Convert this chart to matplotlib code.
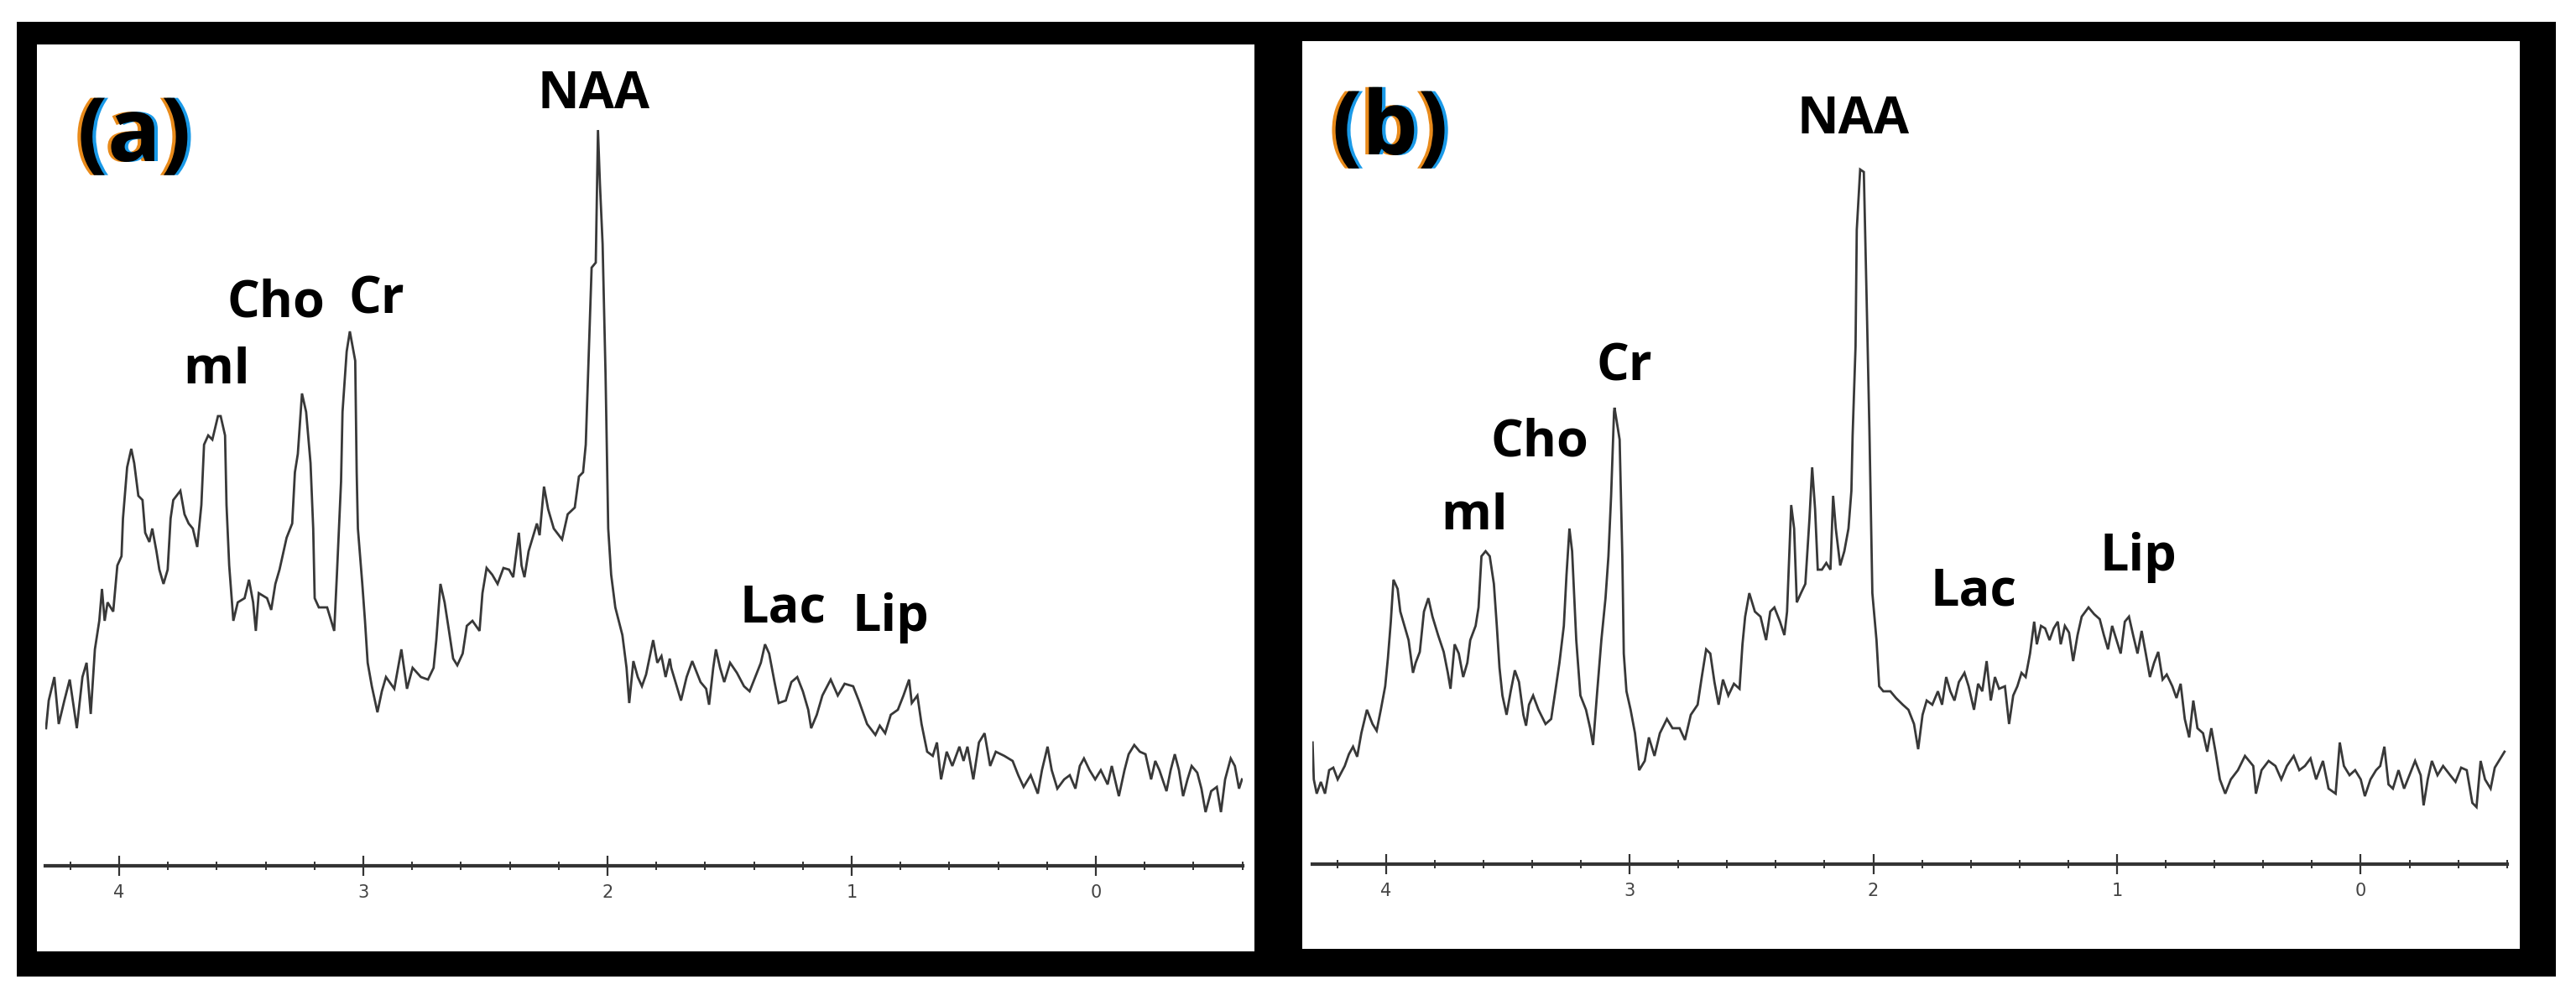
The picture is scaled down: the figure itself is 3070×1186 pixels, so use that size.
import matplotlib
matplotlib.use("Agg")
import matplotlib.pyplot as plt
from matplotlib.patches import Rectangle
from matplotlib.ticker import MultipleLocator, FixedLocator
from matplotlib import patheffects
from matplotlib import font_manager

# ---------------- data ----------------
ppm_a = [4.299, 4.288, 4.265, 4.247, 4.224, 4.202, 4.173, 4.150, 4.133, 4.116, 4.099, 4.081, 4.070, 4.059,
         4.047, 4.024, 4.007, 3.990, 3.984, 3.967, 3.950, 3.938, 3.921, 3.904, 3.893, 3.876, 3.864, 3.847,
         3.835, 3.818, 3.801, 3.789, 3.778, 3.749, 3.732, 3.715, 3.698, 3.680, 3.663, 3.652, 3.635, 3.618,
         3.595, 3.584, 3.566, 3.560, 3.549, 3.532, 3.514, 3.486, 3.468, 3.451, 3.440, 3.428, 3.394, 3.377,
         3.360, 3.343, 3.314, 3.291, 3.280, 3.268, 3.251, 3.234, 3.216, 3.205, 3.199, 3.182, 3.148, 3.119,
         3.108, 3.091, 3.085, 3.068, 3.055, 3.033, 3.027, 3.022, 3.004, 2.993, 2.982, 2.965, 2.942, 2.924,
         2.907, 2.873, 2.844, 2.821, 2.798, 2.764, 2.735, 2.712, 2.701, 2.684, 2.667, 2.649, 2.632, 2.615,
         2.593, 2.576, 2.553, 2.524, 2.512, 2.495, 2.472, 2.450, 2.426, 2.403, 2.386, 2.363, 2.352, 2.340,
         2.323, 2.289, 2.278, 2.260, 2.243, 2.220, 2.186, 2.163, 2.134, 2.117, 2.100, 2.089, 2.077, 2.065,
         2.048, 2.039, 2.031, 2.020, 2.008, 1.997, 1.985, 1.968, 1.939, 1.922, 1.911, 1.894, 1.876, 1.859,
         1.842, 1.813, 1.796, 1.779, 1.762, 1.745, 1.739, 1.699, 1.676, 1.653, 1.619, 1.596, 1.584, 1.567,
         1.556, 1.539, 1.522, 1.498, 1.470, 1.441, 1.418, 1.395, 1.372, 1.355, 1.338, 1.316, 1.299, 1.270,
         1.247, 1.223, 1.200, 1.178, 1.166, 1.143, 1.120, 1.086, 1.057, 1.029, 0.994, 0.971, 0.937, 0.903,
         0.885, 0.863, 0.840, 0.811, 0.788, 0.765, 0.754, 0.731, 0.714, 0.691, 0.668, 0.651, 0.634, 0.611,
         0.588, 0.559, 0.542, 0.526, 0.502, 0.479, 0.456, 0.433, 0.410, 0.375, 0.341, 0.318, 0.296, 0.267,
         0.238, 0.221, 0.198, 0.181, 0.158, 0.130, 0.107, 0.084, 0.066, 0.049, 0.026, 0.003, -0.020, -0.048,
         -0.065, -0.094, -0.117, -0.134, -0.157, -0.180, -0.203, -0.226, -0.243, -0.260, -0.289, -0.306,
         -0.323, -0.340, -0.357, -0.375, -0.392, -0.415, -0.432, -0.449, -0.472, -0.495, -0.512, -0.529,
         -0.552, -0.569, -0.586, -0.598]
amp_a = [16.4, 19.7, 22.5, 16.9, 19.7, 22.2, 16.4, 22.5, 24.2, 18.1, 25.8, 29.2, 33.0, 29.2,
         31.4, 30.3, 35.8, 36.9, 41.4, 47.5, 49.7, 48.0, 44.1, 43.6, 39.7, 38.6, 40.2, 37.5,
         35.3, 33.6, 35.3, 41.4, 43.6, 44.7, 41.9, 40.8, 40.2, 38.0, 43.0, 50.2, 51.3, 50.8,
         53.6, 53.6, 51.3, 43.0, 35.8, 29.2, 31.4, 31.9, 34.1, 31.4, 28.0, 32.5, 31.9, 30.5,
         33.6, 35.3, 39.1, 40.8, 46.9, 49.1, 56.3, 54.1, 48.0, 40.2, 31.9, 30.8, 30.8, 28.0,
         34.7, 45.8, 54.1, 61.3, 63.7, 60.2, 46.9, 40.2, 33.6, 29.2, 24.2, 21.4, 18.3, 20.8,
         22.5, 21.1, 25.8, 21.1, 23.6, 22.5, 22.2, 23.6, 26.9, 33.6, 31.4, 28.0, 24.7, 23.9,
         25.3, 28.6, 29.2, 28.0, 32.5, 35.5, 34.7, 33.6, 35.5, 35.3, 34.4, 39.7, 35.8, 34.4,
         37.5, 40.8, 39.4, 45.2, 42.5, 40.2, 38.9, 41.9, 42.7, 46.4, 46.9, 50.2, 60.8, 71.3,
         71.9, 87.7, 81.3, 74.1, 58.6, 40.2, 34.7, 30.8, 27.5, 23.6, 19.4, 24.4, 22.5, 21.4,
         22.8, 26.9, 24.2, 25.0, 22.5, 24.7, 23.6, 19.7, 22.5, 24.4, 21.9, 21.1, 19.2, 23.6,
         25.8, 23.6, 21.9, 24.2, 23.0, 21.4, 20.8, 22.5, 24.2, 26.4, 25.3, 21.9, 19.4, 19.7,
         21.9, 22.5, 20.8, 18.6, 16.4, 18.0, 20.3, 22.2, 20.3, 21.7, 21.4, 19.7, 16.9, 15.6,
         16.7, 15.8, 18.0, 18.6, 20.3, 22.2, 19.4, 20.3, 16.9, 13.6, 13.1, 14.7, 10.3, 13.6,
         11.9, 14.2, 12.5, 14.2, 10.3, 14.7, 15.8, 11.9, 13.6, 13.1, 12.5, 10.8, 9.4, 10.8,
         8.6, 11.4, 14.2, 11.4, 9.2, 10.3, 10.8, 9.2, 11.9, 12.8, 11.4, 10.3, 11.4, 9.7,
         11.9, 8.3, 11.4, 13.3, 14.4, 13.6, 13.3, 10.3, 12.5, 11.4, 8.9, 11.4,
         13.3, 11.4, 8.3, 10.3, 11.9, 11.1, 9.2, 6.4, 8.9, 9.4, 6.4, 10.3,
         12.8, 11.9, 9.2, 10.3]

ppm_b = [4.301, 4.296, 4.284, 4.267, 4.250, 4.233, 4.216, 4.198, 4.169, 4.152, 4.135, 4.118, 4.101, 4.078,
         4.055, 4.038, 4.021, 4.003, 3.992, 3.980, 3.969, 3.952, 3.941, 3.924, 3.907, 3.889, 3.878, 3.861,
         3.844, 3.826, 3.809, 3.786, 3.763, 3.746, 3.735, 3.718, 3.701, 3.683, 3.666, 3.654, 3.632, 3.620,
         3.608, 3.591, 3.574, 3.557, 3.545, 3.534, 3.522, 3.505, 3.488, 3.471, 3.454, 3.436, 3.425, 3.413,
         3.396, 3.374, 3.345, 3.322, 3.305, 3.288, 3.270, 3.259, 3.247, 3.236, 3.219, 3.202, 3.179, 3.162,
         3.150, 3.133, 3.116, 3.099, 3.087, 3.076, 3.064, 3.062, 3.041, 3.030, 3.024, 3.013, 2.996, 2.978,
         2.961, 2.938, 2.921, 2.898, 2.876, 2.847, 2.824, 2.795, 2.773, 2.749, 2.721, 2.704, 2.686, 2.669,
         2.652, 2.635, 2.617, 2.595, 2.572, 2.549, 2.537, 2.526, 2.509, 2.486, 2.463, 2.440, 2.423, 2.406,
         2.383, 2.365, 2.354, 2.337, 2.325, 2.314, 2.297, 2.279, 2.262, 2.251, 2.239, 2.228, 2.211, 2.193,
         2.176, 2.165, 2.154, 2.136, 2.119, 2.102, 2.090, 2.085, 2.073, 2.068, 2.054, 2.039, 2.027, 2.016,
         2.004, 1.987, 1.976, 1.959, 1.930, 1.907, 1.879, 1.856, 1.833, 1.816, 1.798, 1.781, 1.758, 1.735,
         1.718, 1.701, 1.684, 1.667, 1.649, 1.626, 1.609, 1.587, 1.570, 1.553, 1.535, 1.518, 1.501, 1.484,
         1.460, 1.443, 1.426, 1.409, 1.392, 1.375, 1.357, 1.340, 1.329, 1.312, 1.295, 1.277, 1.260, 1.243,
         1.231, 1.214, 1.197, 1.180, 1.162, 1.145, 1.117, 1.094, 1.071, 1.054, 1.037, 1.020, 1.002, 0.985,
         0.968, 0.951, 0.934, 0.916, 0.899, 0.882, 0.865, 0.848, 0.831, 0.813, 0.796, 0.773, 0.756, 0.739,
         0.722, 0.704, 0.687, 0.670, 0.647, 0.630, 0.613, 0.596, 0.578, 0.556, 0.533, 0.504, 0.475, 0.441,
         0.430, 0.407, 0.378, 0.350, 0.326, 0.303, 0.275, 0.252, 0.229, 0.206, 0.183, 0.155, 0.132, 0.103,
         0.086, 0.069, 0.046, 0.023, 0.000, -0.017, -0.040, -0.063, -0.080, -0.097, -0.114, -0.132, -0.155,
         -0.178, -0.200, -0.223, -0.246, -0.258, -0.275, -0.292, -0.315, -0.338, -0.367, -0.389, -0.412,
         -0.435, -0.458, -0.475, -0.492, -0.510, -0.533, -0.550, -0.567, -0.590]
amp_b = [14.5, 10.1, 8.4, 9.8, 8.4, 11.2, 11.5, 10.1, 11.7, 13.1, 14.0, 12.8, 15.6, 18.4,
         16.7, 15.9, 18.4, 21.2, 24.5, 28.9, 33.9, 32.8, 30.1, 28.4, 26.7, 22.8, 24.0, 25.3,
         30.1, 31.7, 29.5, 27.3, 25.3, 22.8, 20.9, 26.2, 25.1, 22.3, 24.0, 26.7, 28.4, 30.6,
         36.7, 37.3, 36.7, 33.4, 28.4, 23.4, 20.1, 17.8, 20.6, 23.1, 21.7, 17.8, 16.5, 19.0,
         20.1, 18.4, 16.7, 17.3, 20.6, 24.0, 28.4, 34.5, 40.0, 37.3, 26.7, 20.1, 18.4, 16.2,
         14.2, 20.6, 26.7, 31.7, 36.7, 43.9, 53.9, 54.4, 50.6, 36.7, 25.1, 20.6, 18.4, 15.6,
         11.2, 12.3, 15.1, 12.9, 15.6, 17.3, 16.2, 16.2, 14.8, 17.8, 19.0, 22.3, 25.6, 25.1,
         21.7, 19.0, 22.0, 20.1, 21.5, 20.9, 26.2, 29.5, 32.3, 30.1, 29.5, 26.7, 30.1, 30.6,
         28.9, 27.3, 30.1, 42.8, 40.0, 31.2, 32.3, 33.4, 41.2, 47.3, 42.3, 35.1, 35.1, 35.9,
         35.1, 43.9, 40.0, 35.6, 37.3, 40.0, 44.5, 51.1, 61.7, 75.6, 82.8, 82.5, 66.7, 51.7,
         32.3, 26.7, 21.2, 20.6, 20.6, 19.8, 19.0, 18.4, 16.7, 13.7, 17.8, 19.5, 19.0, 20.6,
         19.0, 22.3, 20.6, 19.5, 21.7, 22.8, 21.2, 18.4, 21.5, 20.6, 24.2, 19.5, 22.3, 20.9,
         21.2, 16.7, 20.1, 21.2, 22.8, 22.3, 25.1, 28.9, 26.2, 28.4, 28.1, 26.7, 28.1, 28.9,
         26.2, 28.4, 27.6, 24.2, 27.3, 29.5, 30.6, 29.8, 29.2, 27.3, 25.6, 28.4, 26.7, 25.1,
         28.9, 29.5, 27.3, 25.1, 27.8, 25.1, 22.3, 24.0, 25.3, 22.0, 22.6, 21.2, 19.8, 21.5,
         17.3, 15.1, 19.5, 16.2, 15.6, 13.4, 16.2, 13.4, 10.1, 8.4, 10.1, 11.2, 12.9, 11.7,
         8.4, 11.2, 12.3, 11.7, 10.1, 11.7, 12.9, 11.2, 11.7, 12.6, 10.1, 12.3, 9.0, 8.4,
         14.5, 11.7, 10.6, 11.2, 10.1, 8.1, 10.1, 11.2, 11.7, 14.0, 9.5, 9.0, 11.2,
         9.0, 10.6, 12.3, 10.6, 7.0, 10.1, 12.3, 10.6, 11.7, 10.6, 9.8, 11.5,
         11.2, 7.3, 6.8, 12.3, 10.1, 9.0, 11.5, 12.3, 13.4]

peak_names = ["mI", "Cho", "Cr", "NAA", "Lac", "Lip"]
label_ppm_a = [3.601, 3.357, 2.945, 2.058, 1.282, 0.840]
label_amp_a = [57.5, 65.4, 65.8, 90.3, 29.1, 28.0]
label_ppm_b = [3.637, 3.369, 3.022, 2.084, 1.590, 0.913]
label_amp_b = [39.9, 48.6, 57.6, 87.1, 30.8, 35.0]
panel_letters = ["(a)", "(b)"]
major_ticks = [4, 3, 2, 1, 0]
tick_labels = ["4", "3", "2", "1", "0"]

# ---------------- layout ----------------
W, H = 3070, 1186
fig = plt.figure(figsize=(W / 100, H / 100), dpi=100)
fig.patch.set_facecolor("white")


def fbox(x0, y0, x1, y1):
    return [x0 / W, 1 - y1 / H, (x1 - x0) / W, (y1 - y0) / H]


def add_rect(x0, y0, x1, y1, color):
    b = fbox(x0, y0, x1, y1)
    fig.add_artist(Rectangle((b[0], b[1]), b[2], b[3], transform=fig.transFigure,
                             facecolor=color, edgecolor="none", zorder=0))


add_rect(20, 26, 3046, 1164, "black")
add_rect(44, 53, 1495, 1134, "white")
add_rect(1552, 49, 3003, 1131, "white")

avail = {f.name for f in font_manager.fontManager.ttflist}
label_font = "Open Sans" if "Open Sans" in avail else "DejaVu Sans"
tick_font = "Liberation Sans Narrow" if "Liberation Sans Narrow" in avail else "DejaVu Sans"

fringe = [
    patheffects.SimplePatchShadow(offset=(-3, 0), shadow_rgbFace="#e88a1a", alpha=1.0),
    patheffects.SimplePatchShadow(offset=(3, 0), shadow_rgbFace="#1a9ae8", alpha=1.0),
    patheffects.Normal(),
]

panels = [
    dict(box=fbox(54, 53, 1481, 1032), ppm=ppm_a, amp=amp_a, lx=label_ppm_a, ly=label_amp_a,
         ylim=(0, 97.9), letter=panel_letters[0], letter_pos=(3.938, 84.0)),
    dict(box=fbox(1564, 49, 2988, 1030), ppm=ppm_b, amp=amp_b, lx=label_ppm_b, ly=label_amp_b,
         ylim=(0, 98.1), letter=panel_letters[1], letter_pos=(3.983, 84.6)),
]

for p in panels:
    ax = fig.add_axes(p["box"])
    ax.set_facecolor("none")
    ax.plot(p["ppm"], p["amp"], color="#383838", lw=2.0, solid_joinstyle="miter", zorder=3)
    ax.set_xlim(4.302, -0.601)
    ax.set_ylim(*p["ylim"])
    for s in ["top", "left", "right"]:
        ax.spines[s].set_visible(False)
    ax.spines["bottom"].set_linewidth(3.0)
    ax.spines["bottom"].set_color("#333333")
    ax.xaxis.set_major_locator(FixedLocator(major_ticks))
    ax.set_xticklabels(tick_labels)
    ax.xaxis.set_minor_locator(MultipleLocator(0.2))
    ax.tick_params(axis="x", which="major", direction="inout", length=17, width=1.6,
                   color="#333333", pad=7, labelsize=15, labelcolor="#444444")
    ax.tick_params(axis="x", which="minor", direction="inout", length=7, width=1.4,
                   color="#333333")
    for t in ax.get_xticklabels():
        t.set_family([tick_font, "DejaVu Sans"])
    ax.set_yticks([])

    for name, x, y in zip(peak_names, p["lx"], p["ly"]):
        ax.text(x, y, name, ha="center", va="baseline", fontsize=44,
                fontweight="bold", family=[label_font, "DejaVu Sans"], color="black", zorder=4)

    lx, ly = p["letter_pos"]
    ax.text(lx, ly, p["letter"], ha="center", va="baseline", fontsize=76,
            fontweight="bold", family=[label_font, "DejaVu Sans"], color="black", zorder=5,
            path_effects=fringe)

fig.savefig("out.png", dpi=100, facecolor="white")
